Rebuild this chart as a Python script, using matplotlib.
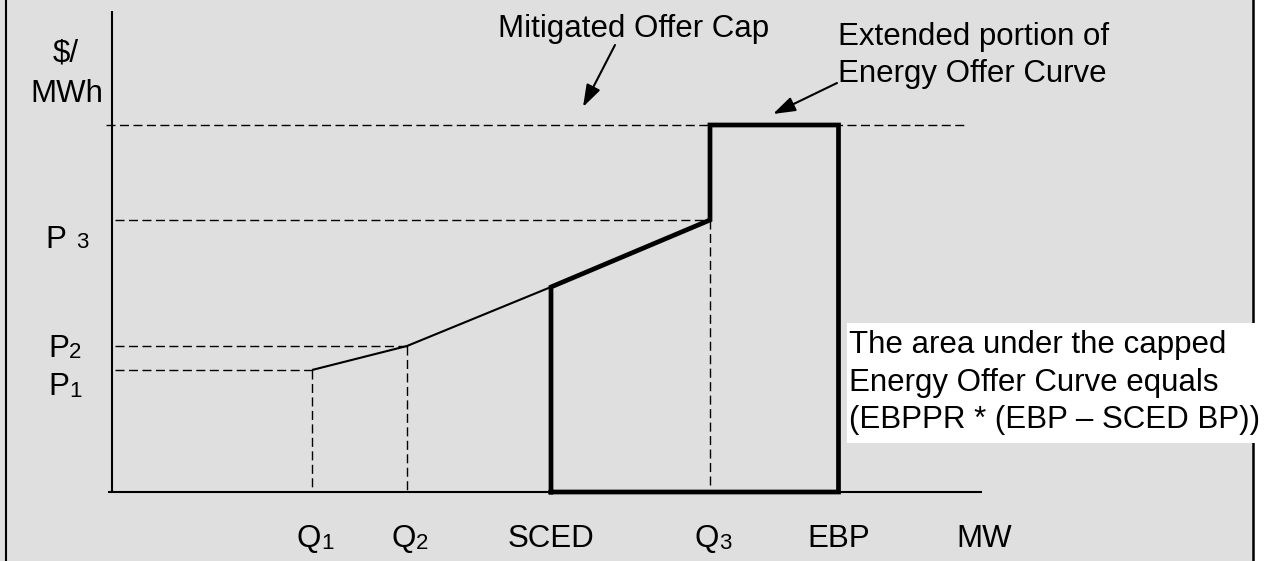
import matplotlib
matplotlib.use("Agg")
import matplotlib.pyplot as plt
import matplotlib.transforms as mtrans
from matplotlib.patches import Rectangle
from matplotlib.lines import Line2D

# ---------------- data ----------------
# quantities on the MW axis
tick_names = ["Q", "Q", "SCED", "Q", "EBP"]
tick_subs = ["1", "2", "", "3", ""]
tick_x = [20.0, 29.5, 43.9, 59.8, 72.65]

# prices on the $/MWh axis
price_subs = ["1", "2", "3"]
price_y = [12.2, 14.6, 27.2]
cap_price = 36.7

# thin (original) energy offer curve
thin_x = [20.0, 29.5, 43.9]
thin_y = [12.2, 14.6, 20.5]

# thick (capped / extended) curve outline
thick_x = [43.9, 43.9, 59.8, 59.8, 72.65, 72.65, 43.9]
thick_y = [0.0, 20.5, 27.2, 36.7, 36.7, 0.0, 0.0]

# ---------------- figure ----------------
plt.rcParams["font.family"] = ["Liberation Sans", "DejaVu Sans"]
W, H = 1288, 561
fig = plt.figure(figsize=(W / 100, H / 100), dpi=100)
fig.patch.set_facecolor("white")
ax = fig.add_axes([0, 0, 1, 1])
ax.set_xlim(-11.2, 117.6)
ax.set_ylim(-6.9, 49.2)
ax.axis("off")
ax.patch.set_alpha(0)


def fx(px):
    return px / W


def fy(py):
    return 1 - py / H


FT = fig.transFigure
FS = 22.5
SUB = 16

# gray panel and its side borders
ax.add_patch(Rectangle((0, 0), fx(1253), 1, transform=FT, facecolor="#dfdfdf",
                       edgecolor="none", zorder=0, clip_on=False))
ax.add_line(Line2D([fx(6.3)] * 2, [0, 1], transform=FT, color="black", lw=1.5, zorder=2))
ax.add_line(Line2D([fx(1253)] * 2, [0, 1], transform=FT, color="black", lw=1.8, zorder=2))

# axes lines
ax.plot([0, 0], [0, 48.1], color="black", lw=1.5, zorder=3, solid_capstyle="butt")
ax.plot([-0.4, 87.0], [0, 0], color="black", lw=1.5, zorder=3, solid_capstyle="butt")

DASH = (6.5, 3.2)
# cap line
ax.plot([-0.6, 85.6], [cap_price, cap_price], color="black", lw=1.0, dashes=DASH, zorder=3)
# horizontal guides to price levels
guide_ends = [tick_x[0], tick_x[1], tick_x[3]]
for p, xe in zip(price_y, guide_ends):
    ax.plot([0.3, xe], [p, p], color="black", lw=1.0, dashes=DASH, zorder=3)
# vertical guides
for xq, p in zip(guide_ends, price_y):
    ax.plot([xq, xq], [p, 0], color="black", lw=1.0, dashes=DASH, zorder=3)

# thin offer curve
ax.plot(thin_x, thin_y, color="black", lw=1.5, zorder=4, solid_capstyle="butt")
# thick capped curve
ax.plot(thick_x, thick_y, color="black", lw=3.4, zorder=5, solid_joinstyle="miter",
        solid_capstyle="projecting")

# x tick labels
tq = mtrans.blended_transform_factory(ax.transData, FT)
for name, sub, x in zip(tick_names, tick_subs, tick_x):
    if sub:
        ax.text(x, fy(547), name, ha="right", va="baseline", fontsize=FS,
                transform=mtrans.offset_copy(tq, fig=fig, x=9, y=0, units="dots"))
        ax.text(x, fy(549), sub, ha="left", va="baseline", fontsize=SUB,
                transform=mtrans.offset_copy(tq, fig=fig, x=9, y=0, units="dots"))
    else:
        ax.text(x, fy(547), name, ha="center", va="baseline", fontsize=FS, transform=tq)
ax.text(fx(984), fy(547), "MW", ha="center", va="baseline", fontsize=FS, transform=FT)

# y labels
ax.text(fx(66), fy(62), "$/", ha="center", va="baseline", fontsize=FS, transform=FT)
ax.text(fx(67), fy(102), "MWh", ha="center", va="baseline", fontsize=FS, transform=FT)
# P1, P2, P3
p_pos = [(48, 395, 69, 397), (48, 357, 69, 358), (45, 248, 76, 248)]
for sub, (mx, my, sx, sy) in zip(price_subs, p_pos):
    ax.text(fx(mx), fy(my), "P", ha="left", va="baseline", fontsize=FS, transform=FT)
    ax.text(fx(sx), fy(sy), sub, ha="left", va="baseline", fontsize=SUB, transform=FT)

# annotations
ax.text(fx(498), fy(37), "Mitigated Offer Cap", ha="left", va="baseline",
        fontsize=FS, transform=FT)
ax.text(fx(838), fy(45), "Extended portion of", ha="left", va="baseline",
        fontsize=FS, transform=FT)
ax.text(fx(838), fy(82), "Energy Offer Curve", ha="left", va="baseline",
        fontsize=FS, transform=FT)
arrow = dict(arrowstyle="-|>,head_length=0.9,head_width=0.3", lw=1.5, color="black",
             mutation_scale=15, shrinkA=0, shrinkB=0)
ax.annotate("", xy=(fx(583), fy(107)), xytext=(fx(615), fy(45)),
            xycoords="figure fraction", textcoords="figure fraction", arrowprops=arrow)
ax.annotate("", xy=(fx(773), fy(114)), xytext=(fx(837), fy(83)),
            xycoords="figure fraction", textcoords="figure fraction", arrowprops=arrow)

# white note box
ax.add_patch(Rectangle((fx(847), fy(443)), fx(1288) - fx(847), fy(323) - fy(443),
                       transform=FT, facecolor="white", edgecolor="none", zorder=6,
                       clip_on=False))
for txt, by in [("The area under the capped", 353),
                ("Energy Offer Curve equals", 391),
                ("(EBPPR * (EBP \u2013 SCED BP))", 428)]:
    ax.text(fx(849), fy(by), txt, ha="left", va="baseline", fontsize=FS,
            transform=FT, zorder=7)

fig.savefig("out.png", dpi=100, facecolor="white")
